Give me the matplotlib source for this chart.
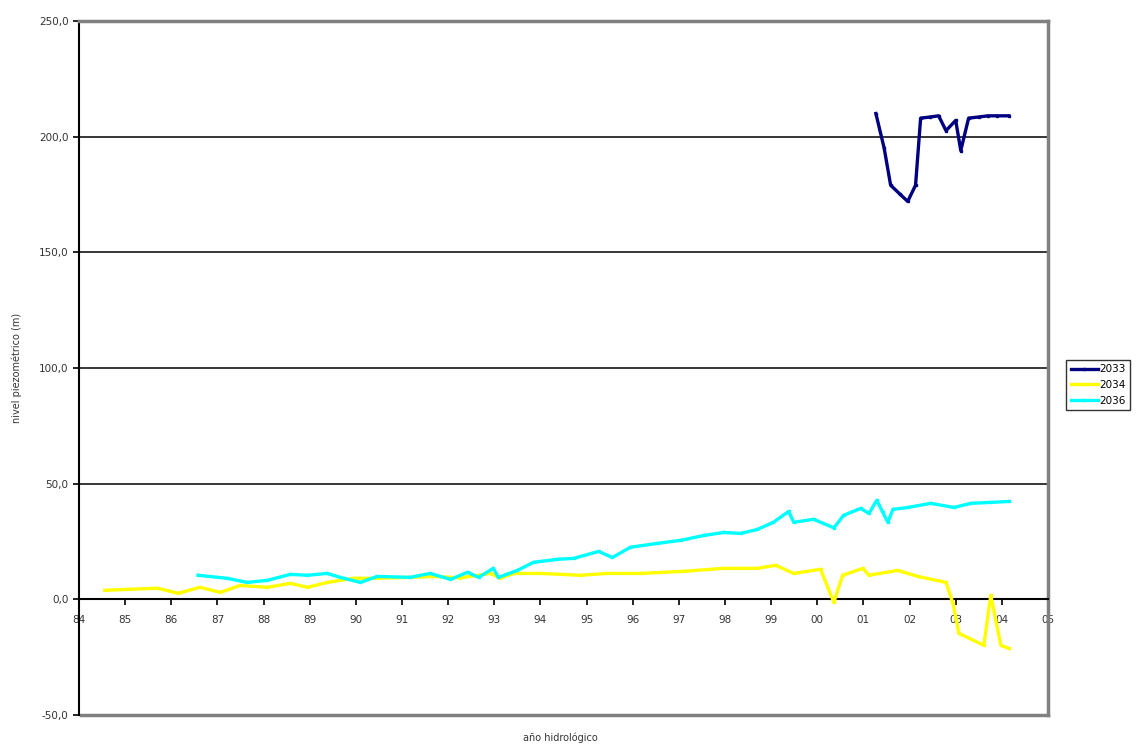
import matplotlib.pyplot as plt
import matplotlib.ticker as mticker

# years as 84..105 (00 -> 100)
x_2033 = [101.27, 101.45, 101.59, 101.80, 101.96, 102.13, 102.24, 102.45, 102.63, 102.79, 103.0, 103.11, 103.28, 103.5, 103.7, 103.9, 104.15]
y_2033 = [210.0, 195.0, 179.0, 175.0, 172.0, 179.0, 208.0, 208.5, 209.0, 202.6, 207.0, 194.0, 208.0, 208.5, 209.0, 209.0, 209.0]

x_2034 = [84.56, 85.04, 85.7, 85.97, 86.15, 86.62, 87.06, 87.49, 88.08, 88.58, 88.95, 89.38, 89.95,
          90.46, 91.18, 91.68, 92.26, 92.92, 93.13, 93.42, 94.0, 94.87, 95.45, 96.17, 97.1, 97.97,
          98.7, 99.1, 99.49, 100.07, 100.36, 100.55, 100.99, 101.12, 101.74, 102.18, 102.79, 102.94,
          103.07, 103.61, 103.76, 103.98, 104.15]
y_2034 = [3.9, 4.3, 4.8, 3.5, 2.6, 5.2, 3.0, 6.0, 5.2, 6.9, 5.2, 7.3, 9.1,
          9.1, 9.5, 9.9, 9.3, 11.2, 9.1, 11.2, 11.2, 10.4, 11.2, 11.2, 12.1, 13.4,
          13.4, 14.7, 11.2, 13.0, -1.3, 10.4, 13.4, 10.4, 12.5, 9.9, 7.3, -1.7,
          -14.7, -19.9, 1.7, -19.9, -21.2]

x_2036 = [86.58, 87.21, 87.64, 88.08, 88.58, 88.95, 89.38, 89.66, 90.1, 90.46, 91.18, 91.61, 92.05,
          92.42, 92.66, 92.98, 93.09, 93.5, 93.85, 94.37, 94.72, 95.26, 95.56, 95.95, 96.54,
          97.04, 97.54, 97.97, 98.34, 98.7, 99.05, 99.38, 99.49, 99.92, 100.36, 100.57, 100.94,
          101.12, 101.29, 101.42, 101.53, 101.64, 101.96, 102.46, 102.96, 103.33, 103.76, 104.15]
y_2036 = [10.4, 9.1, 7.3, 8.2, 10.8, 10.4, 11.2, 9.5, 7.3, 9.9, 9.5, 11.2, 8.6,
          11.7, 9.5, 13.4, 9.5, 12.5, 16.0, 17.3, 17.7, 20.7, 18.1, 22.5, 24.2,
          25.5, 27.6, 28.9, 28.5, 30.2, 33.3, 38.0, 33.3, 34.6, 30.9, 36.3, 39.3,
          37.1, 42.8, 37.6, 33.3, 38.9, 39.7, 41.5, 39.7, 41.5, 41.9, 42.3]

x_ticks = list(range(84, 106))
x_labels = ["%02d" % (t % 100) for t in x_ticks]
y_ticks = [-50, 0, 50, 100, 150, 200, 250]

fig = plt.figure(figsize=(11.37, 7.49), dpi=100)
ax = fig.add_axes([0.0695, 0.0454, 0.8522, 0.9266])

for yy in [50, 100, 150, 200]:
    ax.axhline(yy, color='black', lw=1.1, zorder=1)

ax.plot(x_2033, y_2033, color='#000080', lw=2.4, marker='s', ms=1.8, label='2033', zorder=3)
ax.plot(x_2034, y_2034, color='#ffff00', lw=2.4, marker='s', ms=1.8, label='2034', zorder=3)
ax.plot(x_2036, y_2036, color='#00ffff', lw=2.4, marker='s', ms=1.8, label='2036', zorder=3)

ax.set_xlim(84, 105)
ax.set_ylim(-50, 250)

ax.spines['left'].set_color('black')
ax.spines['left'].set_linewidth(1.5)
ax.spines['bottom'].set_position(('data', 0))
ax.spines['bottom'].set_color('black')
ax.spines['bottom'].set_linewidth(1.5)
for s in ['top', 'right']:
    ax.spines[s].set_color('#808080')
    ax.spines[s].set_linewidth(2.5)
ax.axhline(-50, xmin=0.002, color='#808080', lw=2.5, clip_on=False, zorder=0)

ax.set_xticks(x_ticks)
ax.set_xticklabels(x_labels)
ax.set_yticks(y_ticks)
ax.yaxis.set_major_formatter(mticker.FuncFormatter(lambda v, p: ("%.1f" % v).replace('.', ',')))
ax.tick_params(axis='both', direction='out', length=4, width=1.2, colors='black',
               labelsize=7.5, labelcolor='#333333')
ax.tick_params(axis='x', pad=7)

ax.set_ylabel('nivel piezométrico (m)', fontsize=7, color='#333333', labelpad=12)
fig.text(0.493, 0.011, 'año hidrológico', fontsize=7, color='#333333', ha='center')

leg = ax.legend(loc='center left', bbox_to_anchor=(1.019, 0.4755), fontsize=7.5,
                frameon=True, fancybox=False, handlelength=2.6, borderpad=0.4,
                labelspacing=0.55, handletextpad=0.2, borderaxespad=0)
leg.get_frame().set_edgecolor('black')
leg.get_frame().set_linewidth(1.0)

fig.savefig('out.png', dpi=100)
